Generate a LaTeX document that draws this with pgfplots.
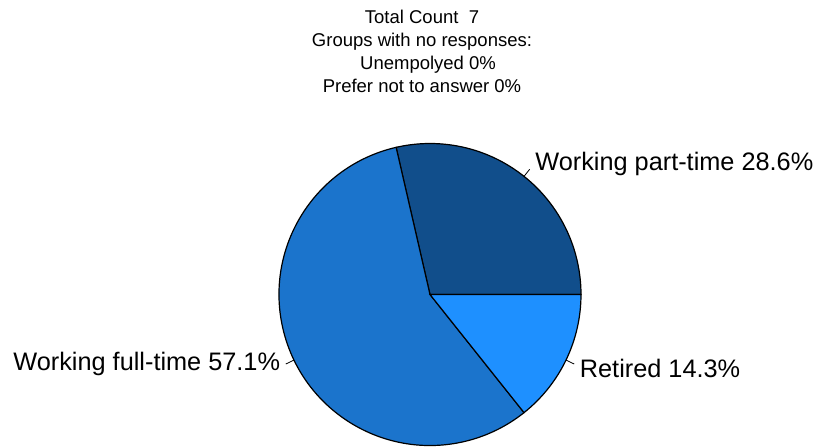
\documentclass[border=0pt]{standalone}
\usepackage{pgfplots}
\pgfplotsset{compat=1.18}
\usepackage{pgfplotstable}
\usepackage{fontspec}
\setmainfont{Liberation Sans}

\definecolor{parttime}{RGB}{17,78,139}
\definecolor{fulltime}{RGB}{27,116,204}
\definecolor{retired}{RGB}{30,144,255}

% share of respondents, in percent (total count 7)
\pgfplotstableread{
slice     pct
parttime  28.6
fulltime  57.1
retired   14.3
}\piedata

\begin{document}
\begin{tikzpicture}
\useasboundingbox (-430bp,-153.5bp) rectangle (385bp,294.5bp);
\pgfplotstablegetelem{0}{pct}\of\piedata \let\pa\pgfplotsretval
\pgfplotstablegetelem{1}{pct}\of\piedata \let\pb\pgfplotsretval
\pgfplotstablegetelem{2}{pct}\of\piedata \let\pc\pgfplotsretval
\pgfmathsetmacro\angA{3.6*\pa}
\pgfmathsetmacro\angB{\angA+3.6*\pb}
\pgfmathsetmacro\midA{\angA/2}
\pgfmathsetmacro\midB{(\angA+\angB)/2}
\pgfmathsetmacro\midC{(\angB+360)/2}
\begin{axis}[
hide axis,
anchor=origin, at={(0,0)},
x=151bp, y=151bp,
xmin=-1.1, xmax=1.1,
ymin=-1.1, ymax=1.1,
clip=false,
]
% wedges
\filldraw[fill=parttime, draw=black, line width=1.2bp]
  (axis cs:0,0) -- (axis cs:1,0) arc[start angle=0, end angle=\angA, radius=151bp] -- cycle;
\filldraw[fill=fulltime, draw=black, line width=1.2bp]
  (axis cs:0,0) -- (axis cs:{cos(\angA)},{sin(\angA)}) arc[start angle=\angA, end angle=\angB, radius=151bp] -- cycle;
\filldraw[fill=retired, draw=black, line width=1.2bp]
  (axis cs:0,0) -- (axis cs:{cos(\angB)},{sin(\angB)}) arc[start angle=\angB, end angle=360, radius=151bp] -- cycle;

% leader ticks and labels
\draw[line width=0.8bp] (axis cs:{cos(\midA)},{sin(\midA)}) -- (axis cs:{1.06*cos(\midA)},{1.06*sin(\midA)})
  node[anchor=west, xshift=2bp, yshift=5bp, font=\fontsize{25.3bp}{29bp}\selectfont] {Working part-time \pa\%};
\draw[line width=0.8bp] (axis cs:{cos(\midB)},{sin(\midB)}) -- (axis cs:{1.06*cos(\midB)},{1.06*sin(\midB)})
  node[anchor=east, xshift=-2bp, yshift=0bp, font=\fontsize{25.3bp}{29bp}\selectfont] {Working full-time \pb\%};
\draw[line width=0.8bp] (axis cs:{cos(\midC)},{sin(\midC)}) -- (axis cs:{1.06*cos(\midC)},{1.06*sin(\midC)})
  node[anchor=west, xshift=2bp, yshift=-4bp, font=\fontsize{25.3bp}{29bp}\selectfont] {Retired \pc\%};

% title
\node[anchor=base, font=\fontsize{18.5bp}{22bp}\selectfont] at (axis cs:-0.053,1.795) {Total Count~~7};
\node[anchor=base, font=\fontsize{18.5bp}{22bp}\selectfont] at (axis cs:-0.053,1.643) {Groups with no responses:};
\node[anchor=base, font=\fontsize{18.5bp}{22bp}\selectfont] at (axis cs:-0.013,1.491) {Unempolyed 0\%};
\node[anchor=base, font=\fontsize{18.5bp}{22bp}\selectfont] at (axis cs:-0.053,1.339) {Prefer not to answer 0\%};
\end{axis}
\end{tikzpicture}
\end{document}
